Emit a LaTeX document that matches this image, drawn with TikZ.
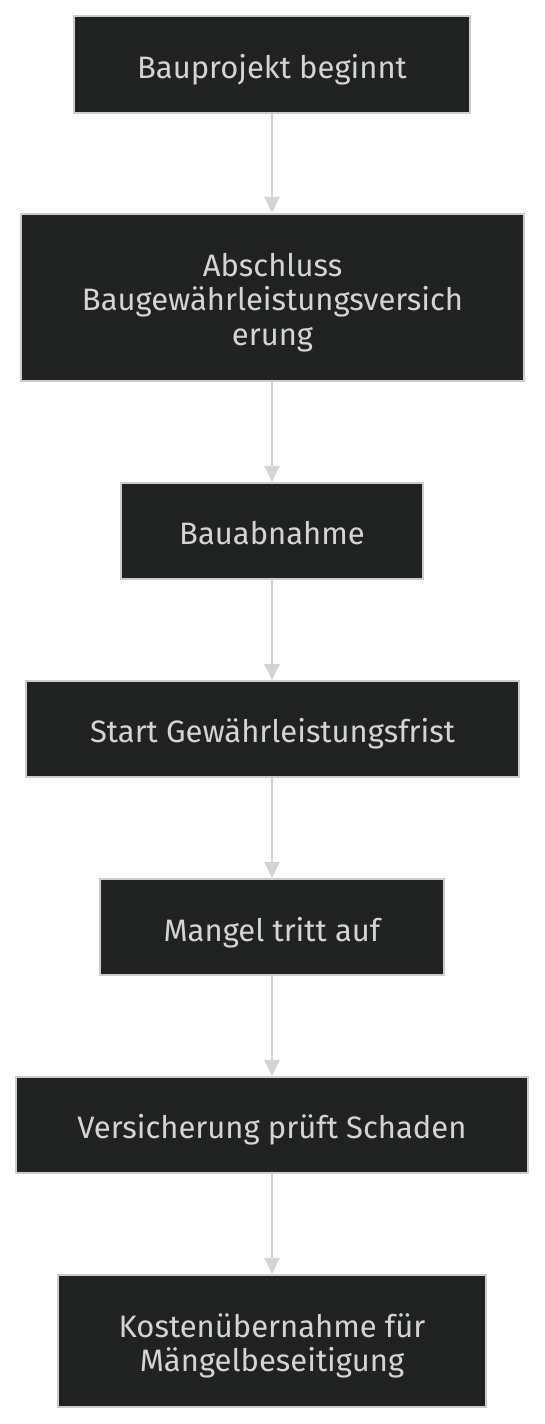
\documentclass[tikz,border=0pt]{standalone}
\usepackage{fontspec}
\setmainfont{Fira Sans}
\usetikzlibrary{arrows.meta}
\definecolor{boxfill}{RGB}{33,35,34}
\definecolor{boxline}{RGB}{204,204,204}
\definecolor{txt}{RGB}{212,212,212}
\definecolor{arr}{RGB}{211,211,211}
\tikzset{
  stepbox/.style={draw=boxline, line width=2pt, fill=boxfill, inner sep=0pt},
  steptext/.style={text=txt, inner sep=0pt, align=center, font=\fontsize{31}{34.5}\selectfont},
  flow/.style={draw=arr, line width=2pt, -{Triangle[width=15pt,length=16pt]}}
}
\begin{document}
\begin{tikzpicture}[x=1pt,y=1pt]
\useasboundingbox (0,0) rectangle (545,1424);
\fill[white] (0,0) rectangle (545,1424);
\node[stepbox, minimum width=396pt, minimum height=97pt] (n1) at (272,{1424-64.5}) {};
\node[stepbox, minimum width=503pt, minimum height=167pt] (n2) at (272.5,{1424-297.5}) {};
\node[stepbox, minimum width=302pt, minimum height=96pt] (n3) at (272,{1424-531}) {};
\node[stepbox, minimum width=493pt, minimum height=96pt] (n4) at (272.5,{1424-729}) {};
\node[stepbox, minimum width=344pt, minimum height=96pt] (n5) at (272,{1424-927}) {};
\node[stepbox, minimum width=512pt, minimum height=96pt] (n6) at (272,{1424-1125}) {};
\node[stepbox, minimum width=428pt, minimum height=132pt] (n7) at (272,{1424-1341}) {};
\node[steptext] (t1) at ([yshift=-5pt]n1.center) {Bauprojekt beginnt};
\node[steptext] (t2) at ([yshift=-5pt]n2.center) {Abschluss\\Baugewährleistungsversich\\erung};
\node[steptext] (t3) at ([yshift=-2pt]n3.center) {Bauabnahme};
\node[steptext] (t4) at ([yshift=-5pt]n4.center) {Start Gewährleistungsfrist};
\node[steptext] (t5) at ([yshift=-5.5pt]n5.center) {Mangel tritt auf};
\node[steptext] (t6) at ([yshift=-5pt]n6.center) {Versicherung prüft Schaden};
\node[steptext] (t7) at ([yshift=-5pt]n7.center) {Kostenübernahme für\\Mängelbeseitigung};
\draw[flow] (n1.south) -- (n2.north -| n1.south);
\draw[flow] (n2.south -| n1.south) -- (n3.north);
\draw[flow] (n3.south) -- (n4.north -| n3.south);
\draw[flow] (n4.south -| n3.south) -- (n5.north);
\draw[flow] (n5.south) -- (n6.north);
\draw[flow] (n6.south) -- (n7.north);
\end{tikzpicture}
\end{document}
